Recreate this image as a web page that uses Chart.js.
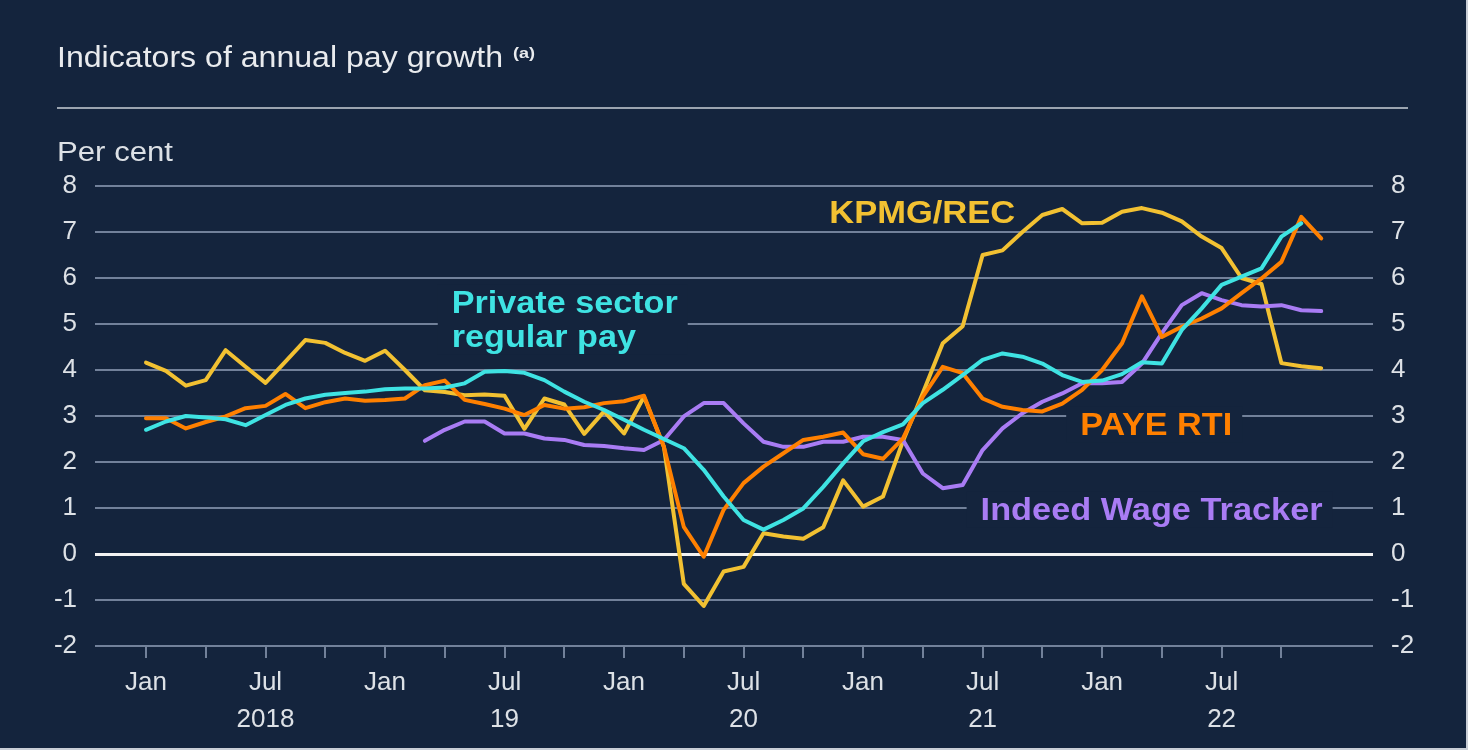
<!DOCTYPE html>
<html>
<head>
<meta charset="utf-8">
<title>Indicators of annual pay growth</title>
<script src="https://cdn.jsdelivr.net/npm/chart.js@4.4.1/dist/chart.umd.min.js"></script>
<style>
  html, body { margin: 0; padding: 0; background: #14243d; }
  #wrap { position: relative; width: 1468px; height: 750px; }
</style>
</head>
<body>
<div id="wrap"><canvas id="chart"></canvas></div>
<script>
// Months from Jan 2018 to Dec 2022, one value per month (null = no data)
const months = [
  'Jan 2018', 'Feb 2018', 'Mar 2018', 'Apr 2018', 'May 2018', 'Jun 2018', 'Jul 2018', 'Aug 2018', 'Sep 2018', 'Oct 2018', 'Nov 2018', 'Dec 2018',
  'Jan 2019', 'Feb 2019', 'Mar 2019', 'Apr 2019', 'May 2019', 'Jun 2019', 'Jul 2019', 'Aug 2019', 'Sep 2019', 'Oct 2019', 'Nov 2019', 'Dec 2019',
  'Jan 2020', 'Feb 2020', 'Mar 2020', 'Apr 2020', 'May 2020', 'Jun 2020', 'Jul 2020', 'Aug 2020', 'Sep 2020', 'Oct 2020', 'Nov 2020', 'Dec 2020',
  'Jan 2021', 'Feb 2021', 'Mar 2021', 'Apr 2021', 'May 2021', 'Jun 2021', 'Jul 2021', 'Aug 2021', 'Sep 2021', 'Oct 2021', 'Nov 2021', 'Dec 2021',
  'Jan 2022', 'Feb 2022', 'Mar 2022', 'Apr 2022', 'May 2022', 'Jun 2022', 'Jul 2022', 'Aug 2022', 'Sep 2022', 'Oct 2022', 'Nov 2022', 'Dec 2022',
];

const kpmgRec = [
  4.16, 3.98, 3.66, 3.78, 4.43, 4.07, 3.72, 4.18, 4.65, 4.59, 4.37, 4.2,
  4.42, 4.0, 3.56, 3.52, 3.45, 3.47, 3.44, 2.72, 3.38, 3.25, 2.61, 3.1,
  2.62, 3.42, 2.33, -0.65, -1.13, -0.38, -0.28, 0.45, 0.38, 0.33, 0.58, 1.6,
  1.03, 1.25, 2.45, 3.5, 4.58, 4.95, 6.5, 6.6, 7.0, 7.37, 7.5, 7.19,
  7.2, 7.44, 7.52, 7.42, 7.23, 6.9, 6.65, 6.0, 5.87, 4.15, 4.08, 4.04,
];

const payeRti = [
  2.95, 2.95, 2.73, 2.87, 2.99, 3.17, 3.22, 3.48, 3.17, 3.3, 3.38, 3.33,
  3.35, 3.38, 3.67, 3.77, 3.35, 3.26, 3.16, 3.02, 3.24, 3.16, 3.19, 3.28,
  3.32, 3.44, 2.33, 0.59, -0.06, 0.96, 1.54, 1.9, 2.19, 2.48, 2.55, 2.64,
  2.17, 2.07, 2.51, 3.42, 4.07, 3.93, 3.38, 3.2, 3.13, 3.1, 3.27, 3.57,
  4.0, 4.58, 5.6, 4.72, 4.94, 5.12, 5.34, 5.67, 5.99, 6.35, 7.33, 6.86,
];

const privateRegularPay = [
  2.7, 2.88, 3.0, 2.97, 2.93, 2.8, 3.02, 3.24, 3.38, 3.46, 3.5, 3.53,
  3.58, 3.6, 3.6, 3.62, 3.71, 3.96, 3.98, 3.94, 3.78, 3.53, 3.31, 3.13,
  2.92, 2.7, 2.5, 2.3, 1.83, 1.25, 0.74, 0.53, 0.74, 0.99, 1.46, 1.97,
  2.45, 2.65, 2.82, 3.28, 3.57, 3.89, 4.22, 4.36, 4.29, 4.14, 3.89, 3.74,
  3.77, 3.91, 4.17, 4.14, 4.87, 5.34, 5.85, 6.03, 6.21, 6.9, 7.19, null,
];

const indeedWageTracker = [
  null, null, null, null, null, null, null, null, null, null, null, null,
  null, null, 2.46, 2.7, 2.88, 2.88, 2.62, 2.62, 2.51, 2.48, 2.37, 2.35,
  2.3, 2.26, 2.48, 2.99, 3.28, 3.28, 2.84, 2.44, 2.33, 2.33, 2.44, 2.44,
  2.55, 2.55, 2.48, 1.75, 1.43, 1.5, 2.26, 2.73, 3.06, 3.31, 3.49, 3.71,
  3.71, 3.74, 4.14, 4.8, 5.41, 5.67, 5.52, 5.41, 5.38, 5.41, 5.3, 5.28,
];

// Quarterly tick marks (month index) and their two-line labels
const tickMonths = [0, 3, 6, 9, 12, 15, 18, 21, 24, 27, 30, 33, 36, 39, 42, 45, 48, 51, 54, 57];
const tickMonthLabels = ['Jan', '', 'Jul', '', 'Jan', '', 'Jul', '', 'Jan', '', 'Jul', '', 'Jan', '', 'Jul', '', 'Jan', '', 'Jul', ''];
const tickYearLabels = ['', '', '2018', '', '', '', '19', '', '', '', '20', '', '', '', '21', '', '', '', '22', ''];
const yTicks = [-2, -1, 0, 1, 2, 3, 4, 5, 6, 7, 8];

const colours = {
  background: '#14243d',
  grid: '#72819a',
  zero: '#f2f2f2',
  text: '#dde1e6',
  rule: '#9ba4b0',
  edge: '#c9ced6',
  kpmg: '#f2c132',
  paye: '#ff8000',
  priv: '#3fe3e3',
  indeed: '#a97cf4',
};

const fontFamily = "'Liberation Sans', Arial, Helvetica, sans-serif";

function toPoints(values) {
  return values.map((value, index) => ({ x: index, y: value }));
}

// text in the reference is slightly wide, so stretch it to a target width
function drawWideText(ctx, text, x, y, width) {
  const natural = ctx.measureText(text).width;
  ctx.save();
  ctx.translate(x, y);
  ctx.scale(width / natural, 1);
  ctx.fillText(text, 0, 0);
  ctx.restore();
}

const seriesLabels = [
  { lines: ['KPMG/REC'], month: 34.3, value: 7.2, width: 186, colour: colours.kpmg, mask: false },
  { lines: ['Private sector', 'regular pay'], month: 15.35, value: 5.24, width: 226, colour: colours.priv, mask: true },
  { lines: ['PAYE RTI'], month: 46.9, value: 2.59, width: 152, colour: colours.paye, mask: true },
  { lines: ['Indeed Wage Tracker'], month: 41.9, value: 0.74, width: 342, colour: colours.indeed, mask: true },
];

const backgroundPlugin = {
  id: 'background',
  beforeDraw(chart) {
    const { ctx, width, height } = chart;
    ctx.save();
    ctx.fillStyle = colours.background;
    ctx.fillRect(0, 0, width, height);
    ctx.restore();
  },
};

const seriesLabelPlugin = {
  id: 'seriesLabels',
  beforeDatasetsDraw(chart) {
    const { ctx, scales } = chart;
    ctx.save();
    ctx.font = `bold 31px ${fontFamily}`;
    ctx.textAlign = 'left';
    ctx.textBaseline = 'alphabetic';
    seriesLabels.forEach((label) => {
      const x = scales.x.getPixelForValue(label.month);
      const y = scales.y.getPixelForValue(label.value);
      const lineGap = 34;
      if (label.mask) {
        ctx.fillStyle = colours.background;
        ctx.fillRect(x - 14, y - 28, label.width + 24, 36 + lineGap * (label.lines.length - 1));
      }
      ctx.fillStyle = label.colour;
      const stretch = label.width / ctx.measureText(label.lines[0]).width;
      label.lines.forEach((line, i) => {
        drawWideText(ctx, line, x, y + i * lineGap, ctx.measureText(line).width * stretch);
      });
    });
    ctx.restore();
  },
  afterDraw(chart) {
    const { ctx, width, height } = chart;
    ctx.save();
    ctx.fillStyle = '#e9ebee';
    ctx.textAlign = 'left';
    ctx.textBaseline = 'alphabetic';
    ctx.font = `29px ${fontFamily}`;
    drawWideText(ctx, 'Indicators of annual pay growth', 57, 67, 446);
    ctx.font = `bold 14px ${fontFamily}`;
    drawWideText(ctx, '(a)', 513, 58, 22);

    ctx.strokeStyle = colours.rule;
    ctx.lineWidth = 2;
    ctx.beginPath();
    ctx.moveTo(57, 108);
    ctx.lineTo(1408, 108);
    ctx.stroke();

    ctx.fillStyle = colours.text;
    ctx.font = `27px ${fontFamily}`;
    drawWideText(ctx, 'Per cent', 57, 161, 116);

    // light frame edge on the right and bottom of the scanned panel
    ctx.strokeStyle = colours.edge;
    ctx.lineWidth = 2;
    ctx.beginPath();
    ctx.moveTo(width - 1, 0);
    ctx.lineTo(width - 1, height - 1);
    ctx.lineTo(0, height - 1);
    ctx.stroke();
    ctx.restore();
  },
};

const tickFont = { family: fontFamily, size: 26 };

function yAxis(position, drawGrid) {
  return {
    position,
    min: -2,
    max: 8,
    afterBuildTicks(scale) {
      scale.ticks = yTicks.map((value) => ({ value }));
    },
    afterFit(scale) {
      scale.width = 95;
    },
    grid: {
      display: drawGrid,
      drawTicks: false,
      color: (ctx) => (ctx.tick && ctx.tick.value === 0 ? colours.zero : colours.grid),
      lineWidth: (ctx) => (ctx.tick && ctx.tick.value === 0 ? 3 : 2),
    },
    border: { display: false },
    ticks: {
      padding: 18,
      color: colours.text,
      font: tickFont,
      callback: (value) => `${value}`,
    },
  };
}

function lineDataset(label, values, colour, order) {
  return {
    label,
    data: toPoints(values),
    borderColor: colour,
    backgroundColor: colour,
    borderWidth: 4,
    pointRadius: 0,
    tension: 0,
    borderJoinStyle: 'round',
    borderCapStyle: 'round',
    spanGaps: false,
    order,
  };
}

new Chart(document.getElementById('chart'), {
  type: 'line',
  data: {
    datasets: [
      lineDataset('Private sector regular pay', privateRegularPay, colours.priv, 1),
      lineDataset('PAYE RTI', payeRti, colours.paye, 2),
      lineDataset('Indeed Wage Tracker', indeedWageTracker, colours.indeed, 3),
      lineDataset('KPMG/REC', kpmgRec, colours.kpmg, 4),
    ],
  },
  plugins: [backgroundPlugin, seriesLabelPlugin],
  options: {
    responsive: true,
    maintainAspectRatio: false,
    animation: false,
    layout: { padding: { top: 186, right: 0, bottom: 0, left: 0 } },
    scales: {
      x: {
        type: 'linear',
        min: -2.56,
        max: 61.6,
        afterBuildTicks(scale) {
          scale.ticks = tickMonths.map((value) => ({ value }));
        },
        afterFit(scale) {
          scale.height = 104;
        },
        grid: {
          drawOnChartArea: false,
          drawTicks: true,
          tickLength: 12,
          color: colours.grid,
          lineWidth: 2,
        },
        border: { display: false },
        ticks: {
          autoSkip: false,
          maxRotation: 0,
          padding: 7,
          color: colours.text,
          font: { family: fontFamily, size: 26, lineHeight: 1.4 },
          callback: (value) => {
            const i = tickMonths.indexOf(value);
            if (i < 0) return '';
            return tickYearLabels[i] ? [tickMonthLabels[i], tickYearLabels[i]] : tickMonthLabels[i];
          },
        },
      },
      y: yAxis('left', true),
      y2: yAxis('right', false),
    },
    plugins: {
      legend: { display: false },
      tooltip: { enabled: false },
      title: { display: false },
    },
  },
});
</script>
</body>
</html>
